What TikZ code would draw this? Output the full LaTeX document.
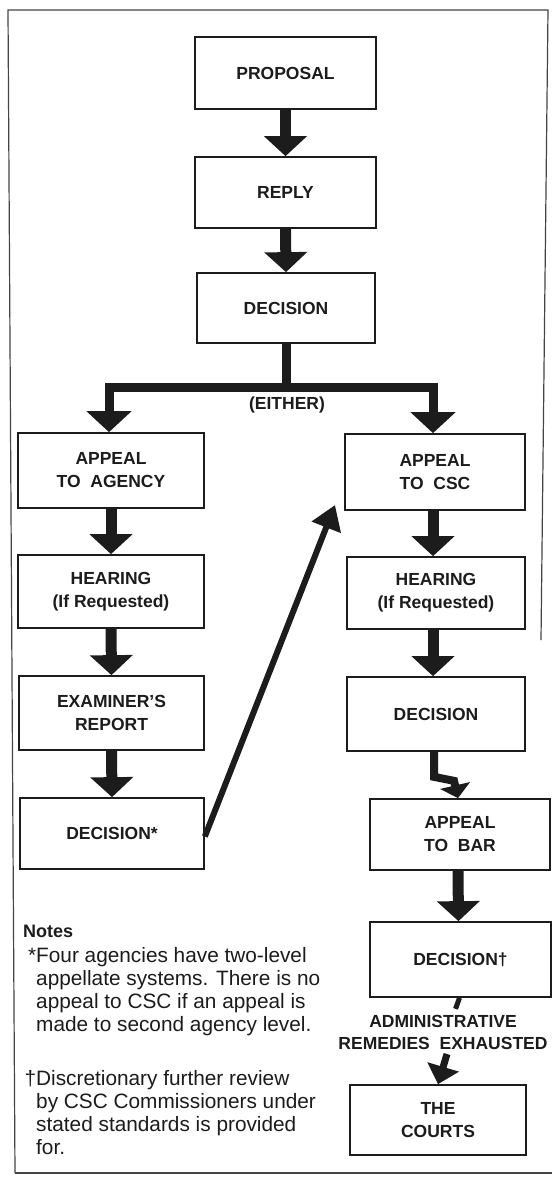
\documentclass[tikz,border=0pt]{standalone}
\usepackage{fontspec}
\setmainfont{Liberation Sans}
\usetikzlibrary{arrows.meta}
\definecolor{ink}{HTML}{1C1C1C}
\definecolor{framec}{HTML}{444444}
\begin{document}
\begin{tikzpicture}[x=1pt,y=-1pt,
  box/.style={draw=ink, line width=1.7pt, inner sep=0pt, align=center, text=ink,
              font=\bfseries\fontsize{17.5}{23}\selectfont},
  flow/.style={draw=ink, line width=11pt, -{Triangle[width=42pt,length=20pt]}},
  branch/.style={draw=ink, line width=9pt, line join=miter, -{Triangle[width=44pt,length=21pt]}},
  label/.style={inner sep=0pt, align=center, text=ink, font=\bfseries\fontsize{17.5}{22}\selectfont},
  note/.style={inner sep=0pt, anchor=base west, text=ink, font=\fontsize{20.8}{23}\selectfont},
  frame/.style={draw=framec, line width=1.2pt}]
\useasboundingbox (0,0) rectangle (552,1180);
\fill[white] (0,0) rectangle (552,1180);
% frame
\draw[frame] (15,1173) -- (8,10) -- (548,10) -- (541,640);
\draw[frame] (15,1173) -- (552,1173);
% top column
\node[box, minimum width=181pt, minimum height=72pt] (prop) at (285.5,73) {PROPOSAL};
\node[box, minimum width=181pt, minimum height=71pt] (reply) at (285.5,192.5) {REPLY};
\node[box, minimum width=178pt, minimum height=70pt] (dec1) at (286,308) {DECISION};
% left column
\node[box, minimum width=186pt, minimum height=75pt] (agency) at (111,470.5) {APPEAL\\TO\ \ AGENCY};
\node[box, minimum width=186pt, minimum height=73pt] (hearL) at (111,591.5) {HEARING\\(If Requested)};
\node[box, minimum width=185pt, minimum height=74pt] (exam) at (111.5,713) {EXAMINER’S\\REPORT};
\node[box, minimum width=184pt, minimum height=71pt] (dstar) at (112,833.5) {DECISION*};
% right column
\node[box, minimum width=180pt, minimum height=76pt] (csc) at (435,472) {APPEAL\\TO\ \ CSC};
\node[box, minimum width=178pt, minimum height=72pt] (hearR) at (436,593) {HEARING\\(If Requested)};
\node[box, minimum width=178pt, minimum height=74pt] (decR) at (436,714) {DECISION};
\node[box, minimum width=180pt, minimum height=71pt] (bar) at (460,834.5) {APPEAL\\TO\ \ BAR};
\node[box, minimum width=181pt, minimum height=75pt] (decD) at (460.5,959.5) {DECISION†};
\node[box, minimum width=176pt, minimum height=70pt] (courts) at (438,1120) {THE\\COURTS};
% labels
\node[label] (either) at (287,405) {(EITHER)};
\node[label] (admin) at (443,1032) {ADMINISTRATIVE\\REMEDIES\ \ EXHAUSTED};
% connectors
\draw[flow] (prop.south) -- (reply.north);
\draw[flow] (reply.south) -- (dec1.north);
\coordinate (split) at (286,387);
\coordinate (bl) at (109,387);
\coordinate (br) at (433,387);
\draw[ink, line width=9pt] (dec1.south) -- ([yshift=-3pt]split);
\draw[branch] (split) -- (bl) -- (bl |- agency.north);
\draw[branch] (split) -- (br) -- (br |- csc.north);
\draw[flow] (agency.south) -- (hearL.north);
\draw[flow] (hearL.south) -- (exam.north);
\draw[flow] (exam.south) -- (dstar.north);
\draw[flow] ([xshift=-2pt]csc.south) -- ([xshift=-3pt]hearR.north);
\draw[flow] ([xshift=-3pt]hearR.south) -- ([xshift=-3pt]decR.north);
\draw[draw=ink, line width=8pt, line join=miter, -{Triangle[width=30pt,length=13pt]}]
  ([xshift=-2pt]decR.south) -- ++(0,25) -- ++(20,4) -- ([xshift=-2pt]bar.north);
\draw[flow] ([xshift=-2pt]bar.south) -- ([xshift=-2pt]decD.north);
\draw[ink, line width=5pt] ([xshift=-1pt]decD.south) -- ++(-4,11);
\coordinate (remb) at (447,1054);
\draw[draw=ink, line width=7pt, -{Triangle[width=32pt,length=18pt]}] (remb) -- (courts.north);
\coordinate (cscin) at (335,505);
\draw[draw=ink, line width=6pt, -{Triangle[width=30pt,length=24pt]}] ([yshift=-3pt]dstar.east) -- (cscin);
% notes
\node[note, font=\bfseries\fontsize{18}{22}\selectfont] (notes) at (23,937) {Notes};
\node[note] (n1) at (36,962) {\llap{*}Four agencies have two-level};
\node[note] (n2) at (36,985) {appellate systems. There is no};
\node[note] (n3) at (36,1008) {appeal to CSC if an appeal is};
\node[note] (n4) at (36,1031) {made to second agency level.};
\node[note] (n5) at (36,1085) {\llap{†}Discretionary further review};
\node[note] (n6) at (36,1108) {by CSC Commissioners under};
\node[note] (n7) at (36,1131) {stated standards is provided};
\node[note] (n8) at (36,1154) {for.};
\end{tikzpicture}
\end{document}
